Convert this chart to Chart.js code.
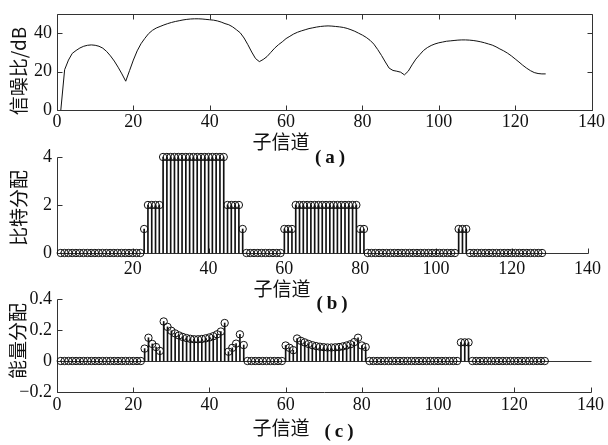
<!DOCTYPE html>
<html>
<head>
<meta charset="utf-8">
<script src="https://cdn.jsdelivr.net/npm/chart.js@4.4.1/dist/chart.umd.min.js"></script>
<style>
  body { margin: 0; background: #fff; }
  #wrap { position: relative; width: 608px; height: 445px; overflow: hidden; background: #fff; }
  canvas { position: absolute; left: 0; }
  .lbl { position: absolute; font-family: "Noto Sans CJK SC", sans-serif; font-size: 19px; color: #111;
         white-space: nowrap; line-height: 1; transform: translate(-50%, -50%); }
  .ylbl { transform: translate(-50%, -50%) rotate(-90deg); }
  .cap { font-family: "Liberation Serif", serif; font-weight: bold; letter-spacing: 4px; }
</style>
</head>
<body>
<div id="wrap">
  <canvas id="chartA" width="608" height="135" style="top:0px"></canvas>
  <canvas id="chartB" width="608" height="140" style="top:140px"></canvas>
  <canvas id="chartC" width="608" height="135" style="top:285px"></canvas>

  <div class="lbl ylbl" style="left:17px; top:71px">信噪比/dB</div>
  <div class="lbl ylbl" style="left:17px; top:208px">比特分配</div>
  <div class="lbl ylbl" style="left:16px; top:341px">能量分配</div>

  <div class="lbl" style="left:281px; top:140px">子信道</div>
  <div class="lbl" style="left:282px; top:287px">子信道</div>
  <div class="lbl" style="left:281px; top:426px">子信道</div>

  <div class="lbl cap" style="left:332px; top:156px">(a)</div>
  <div class="lbl cap" style="left:334px; top:302px">(b)</div>
  <div class="lbl cap" style="left:341px; top:430px">(c)</div>
</div>

<script>
// subchannel index 1..128
const channels = Array.from({ length: 128 }, (_, i) => i + 1);

// (a) SNR per subchannel, dB
const snrDb = [
  0, 21, 26, 29.5, 31, 32.3, 33.2, 33.7, 33.9, 33.7,
  33.2, 32.2, 30.5, 28.2, 25.5, 22.3, 18.8, 15, 20.5, 26,
  30.8, 34.5, 37.3, 39.8, 41.5, 42.7, 43.5, 44.3, 45, 45.6,
  46.1, 46.5, 46.9, 47.2, 47.4, 47.5, 47.5, 47.4, 47.2, 47,
  46.8, 46.4, 45.8, 45, 44.4, 43.3, 41.8, 40.2, 37.5, 34,
  30.2, 26.8, 25.2, 26.3, 27.8, 30, 32.2, 34, 35.5, 37.2,
  38.4, 39.6, 40.5, 41.2, 41.8, 42.4, 42.8, 43.2, 43.5, 43.7,
  43.8, 43.7, 43.5, 43.3, 43, 42.5, 41.8, 41, 40, 39,
  37.8, 36.3, 34.3, 31.5, 28.4, 25, 21.8, 20.6, 20.2, 19.7,
  18.3, 20.2, 23.5, 26.5, 28.8, 31, 32.5, 33.6, 34.4, 35,
  35.4, 35.8, 36, 36.2, 36.4, 36.5, 36.5, 36.4, 36.2, 35.9,
  35.5, 35, 34.4, 33.8, 32.9, 31.8, 30.8, 29.6, 28.2, 26.6,
  25, 23.3, 21.8, 20.5, 19.5, 19, 18.8, 18.8
];

// (b) bit allocation
const bits = [
  0, 0, 0, 0, 0, 0, 0, 0, 0, 0,
  0, 0, 0, 0, 0, 0, 0, 0, 0, 0,
  0, 0, 1, 2, 2, 2, 2, 4, 4, 4,
  4, 4, 4, 4, 4, 4, 4, 4, 4, 4,
  4, 4, 4, 4, 2, 2, 2, 2, 1, 0,
  0, 0, 0, 0, 0, 0, 0, 0, 0, 1,
  1, 1, 2, 2, 2, 2, 2, 2, 2, 2,
  2, 2, 2, 2, 2, 2, 2, 2, 2, 1,
  1, 0, 0, 0, 0, 0, 0, 0, 0, 0,
  0, 0, 0, 0, 0, 0, 0, 0, 0, 0,
  0, 0, 0, 0, 0, 1, 1, 1, 0, 0,
  0, 0, 0, 0, 0, 0, 0, 0, 0, 0,
  0, 0, 0, 0, 0, 0, 0, 0
];

// (c) energy allocation
const energy = [
  0, 0, 0, 0, 0, 0, 0, 0, 0, 0,
  0, 0, 0, 0, 0, 0, 0, 0, 0, 0,
  0, 0, 0.08, 0.15, 0.11, 0.09, 0.065, 0.255, 0.22, 0.195,
  0.178, 0.165, 0.155, 0.148, 0.143, 0.14, 0.14, 0.142, 0.146, 0.152,
  0.16, 0.172, 0.19, 0.245, 0.06, 0.085, 0.112, 0.172, 0.103, 0,
  0, 0, 0, 0, 0, 0, 0, 0, 0, 0.1,
  0.085, 0.07, 0.145, 0.13, 0.12, 0.11, 0.102, 0.096, 0.092, 0.089,
  0.087, 0.087, 0.088, 0.09, 0.094, 0.1, 0.108, 0.122, 0.15, 0.1,
  0.09, 0, 0, 0, 0, 0, 0, 0, 0, 0,
  0, 0, 0, 0, 0, 0, 0, 0, 0, 0,
  0, 0, 0, 0, 0, 0.12, 0.12, 0.12, 0, 0,
  0, 0, 0, 0, 0, 0, 0, 0, 0, 0,
  0, 0, 0, 0, 0, 0, 0, 0
];

// ticks
const xTicks = [0, 20, 40, 60, 80, 100, 120, 140];
const xLabelsA = ['0', '20', '40', '60', '80', '100', '120', '140'];
const xLabelsB = ['', '20', '40', '60', '80', '100', '120', '140'];
const xLabelsC = ['0', '20', '40', '60', '80', '100', '120', '140'];
const yTicksA = [0, 20, 40];
const yLabelsA = ['0', '20', '40'];
const yTicksB = [0, 2, 4];
const yLabelsB = ['0', '2', '4'];
const yTicksC = [-0.2, 0, 0.2, 0.4];
const yLabelsC = ['−0.2', '0', '0.2', '0.4'];

const ink = '#111';
const axisColor = '#333';
const tickFont = { family: '"Liberation Serif", serif', size: 18, lineHeight: 1 };
const tickLen = 5;

// MATLAB-like axes: inward ticks, box or open axes, optional stem baseline
function matAxes(mode) {
  return {
    id: 'matAxes',
    beforeDatasetsDraw(chart) {
      const { ctx, chartArea: a, scales: { x, y } } = chart;
      const px = v => Math.round(v) + 0.5;
      const L = px(a.left), R = px(a.right), T = px(a.top), B = px(a.bottom);
      ctx.save();
      ctx.strokeStyle = axisColor;
      ctx.lineWidth = 1;
      ctx.beginPath();
      if (mode === 'box') {
        ctx.rect(L, T, R - L, B - T);
      } else {
        ctx.moveTo(L, T); ctx.lineTo(L, B); ctx.lineTo(R, B);
      }
      x.ticks.forEach(t => {
        const xx = px(x.getPixelForValue(t.value));
        ctx.moveTo(xx, B); ctx.lineTo(xx, B - tickLen);
        if (mode === 'box') { ctx.moveTo(xx, T); ctx.lineTo(xx, T + tickLen); }
      });
      y.ticks.forEach(t => {
        const yy = px(y.getPixelForValue(t.value));
        ctx.moveTo(L, yy); ctx.lineTo(L + tickLen, yy);
        if (mode === 'box') { ctx.moveTo(R, yy); ctx.lineTo(R - tickLen, yy); }
      });
      if (mode === 'baseline') {
        const y0 = px(y.getPixelForValue(0));
        ctx.moveTo(L, y0); ctx.lineTo(R, y0);
      }
      ctx.stroke();
      ctx.restore();
    }
  };
}

function xScale(labels, height, pad) {
  return {
    type: 'linear', min: 0, max: 140, offset: false,
    afterBuildTicks: s => { s.ticks = xTicks.map(v => ({ value: v })); },
    afterFit: s => { s.height = height; },
    ticks: { font: tickFont, color: ink, padding: pad, maxRotation: 0, autoSkip: false,
             callback: v => labels[xTicks.indexOf(v)] },
    grid: { display: false, drawTicks: false }, border: { display: false }
  };
}

function yScale(min, max, ticks, labels) {
  return {
    min: min, max: max,
    afterBuildTicks: s => { s.ticks = ticks.map(v => ({ value: v })); },
    afterFit: s => { s.width = 57; },
    ticks: { font: tickFont, color: ink, padding: 5,
             callback: v => labels[ticks.findIndex(t => Math.abs(t - v) < 1e-9)] },
    grid: { display: false, drawTicks: false }, border: { display: false }
  };
}

const common = {
  responsive: false,
  animation: false,
  plugins: { legend: { display: false }, tooltip: { enabled: false } }
};

function stemData(values) {
  return channels.map((c, i) => ({ x: c, y: values[i] }));
}

function stemChart(id, values, yopts, labels, xh, xpad, padTop, mode) {
  return new Chart(document.getElementById(id), {
    type: 'bar',
    data: {
      datasets: [
        { type: 'line', data: stemData(values), showLine: false, pointRadius: 3.7,
          pointBackgroundColor: 'rgba(0,0,0,0)', pointBorderColor: ink, pointBorderWidth: 1,
          clip: false, order: 0 },
        { type: 'bar', data: stemData(values), barThickness: 1, backgroundColor: ink,
          borderWidth: 0, clip: false, order: 1 }
      ]
    },
    options: Object.assign({}, common, {
      layout: { padding: { top: padTop, right: 15, left: 0, bottom: 0 } },
      scales: { x: xScale(labels, xh, xpad), y: yopts }
    }),
    plugins: [matAxes(mode)]
  });
}

// (a) SNR curve
new Chart(document.getElementById('chartA'), {
  type: 'line',
  data: {
    datasets: [{ data: stemData(snrDb), borderColor: ink, borderWidth: 1, pointRadius: 0, tension: 0 }]
  },
  options: Object.assign({}, common, {
    layout: { padding: { top: 14, right: 15, left: 0, bottom: 0 } },
    scales: { x: xScale(xLabelsA, 25, 3), y: yScale(0, 50, yTicksA, yLabelsA) }
  }),
  plugins: [matAxes('box')]
});

// (b) bits
stemChart('chartB', bits, yScale(0, 4, yTicksB, yLabelsB), xLabelsB, 27, 7, 17, 'open');

// (c) energy
stemChart('chartC', energy, yScale(-0.2, 0.4, yTicksC, yLabelsC), xLabelsC, 28, 4, 13, 'baseline');
</script>
</body>
</html>
